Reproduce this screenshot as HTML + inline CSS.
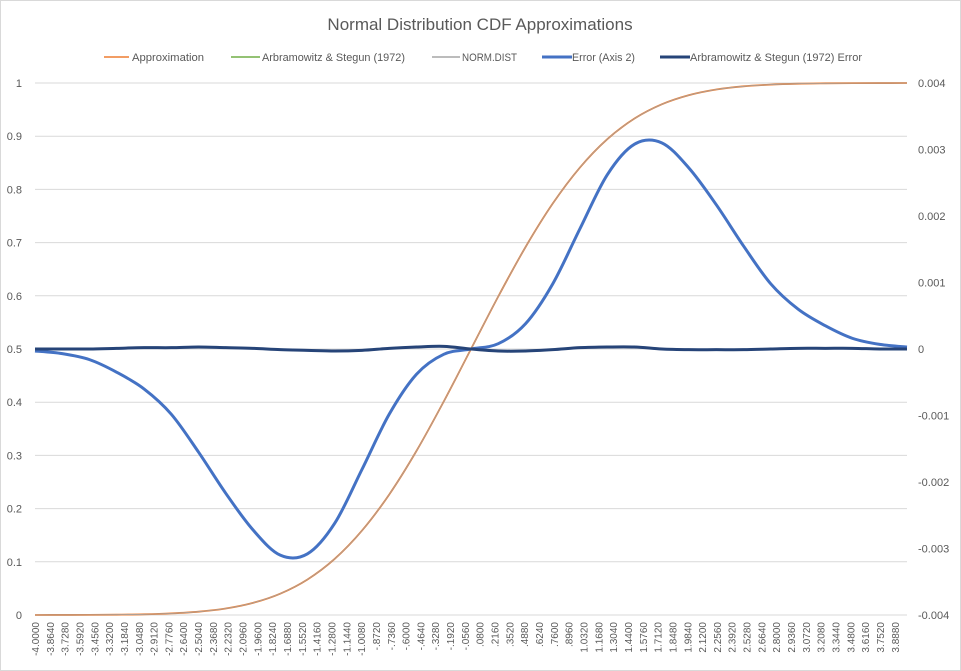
<!DOCTYPE html>
<html><head><meta charset="utf-8"><style>
body{margin:0;background:#fff}
svg{display:block;font-family:"Liberation Sans",sans-serif}
</style></head><body>
<svg id="c" width="961" height="671">
<rect x="0.5" y="0.5" width="960" height="670" fill="#fff" stroke="#d9d9d9"/>
<text x="480" y="30" text-anchor="middle" font-size="17" fill="#595959">Normal Distribution CDF Approximations</text>
<g id="grid"></g><g id="axes"></g><g id="series"></g><g id="legend"></g>
</svg>
<script>
const xs=[-4,-3.75,-3.5,-3.25,-3,-2.75,-2.5,-2.25,-2,-1.75,-1.5,-1.25,-1,-0.75,-0.5,-0.25,0,0.25,0.5,0.75,1,1.25,1.5,1.75,2,2.25,2.5,2.75,3,3.25,3.5,3.75,4];
const cdfValues=[0.00003,0.0001,0.0002,0.0006,0.0013,0.003,0.0062,0.0122,0.0228,0.0401,0.0668,0.1056,0.1587,0.2266,0.3085,0.4013,0.5,0.5987,0.6915,0.7734,0.8413,0.8944,0.9332,0.9599,0.9772,0.9878,0.9938,0.997,0.9987,0.9994,0.9998,0.9999,0.99997];
const errValues=[-0.00003,-0.00007,-0.00016,-0.00035,-0.0006,-0.00098,-0.00155,-0.00217,-0.00272,-0.0031,-0.00308,-0.00262,-0.00181,-0.00098,-0.00038,-0.00008,0,0.00008,0.00038,0.00098,0.00181,0.00262,0.00308,0.0031,0.00272,0.00217,0.00155,0.00098,0.0006,0.00035,0.00016,0.00007,0.00003];
const asErrValues=[0,0,0,0.00001,0.00002,0.00002,0.00003,0.00002,0.00001,-0.00001,-0.00002,-0.00003,-0.00002,0.00001,0.00003,0.00004,0,-0.00003,-0.00003,-0.00001,0.00002,0.00003,0.00003,0,-0.00001,-0.00001,-0.00001,0,0.00001,0.00001,0.00001,0,0];
const leftTicks=[0,0.1,0.2,0.3,0.4,0.5,0.6,0.7,0.8,0.9,1];
const rightTicks=[-0.004,-0.003,-0.002,-0.001,0,0.001,0.002,0.003,0.004];
const rightLabels=["-0.004","-0.003","-0.002","-0.001","0","0.001","0.002","0.003","0.004"];

const L=35,R=907,T=83,B=615,NS="http://www.w3.org/2000/svg";
const X=v=>L+(v+4)/8*(R-L);
const Y1=v=>B-v*(B-T);
const Y2=v=>B-(v+0.004)/0.008*(B-T);
function mk(p,tag,a){const e=document.createElementNS(NS,tag);for(const k in a)e.setAttribute(k,a[k]);p.appendChild(e);return e;}
const grid=document.getElementById('grid'),axes=document.getElementById('axes'),ser=document.getElementById('series'),leg=document.getElementById('legend');
leftTicks.forEach(t=>{
  const g=mk(grid,'line',{x1:L,x2:R,y1:Y1(t),y2:Y1(t),stroke:'#d9d9d9','stroke-width':1});
  
  
  const tx=mk(axes,'text',{x:22,y:Y1(t)+4,'text-anchor':'end','font-size':11,fill:'#595959'});
  tx.textContent=String(t);
  
  
});
rightTicks.forEach((t,i)=>{
  const tx=mk(axes,'text',{x:918,y:Y2(t)+4,'font-size':11,fill:'#595959'});
  tx.textContent=rightLabels[i];
  
  
});
for(let i=0;i<59;i++){
  const v=-4+i*0.136;
  let s=v.toFixed(4);
  if(Math.abs(v)<1&&Math.abs(v)>1e-9) s=s.replace('0.','.');
  const x=X(v)+4;
  const tx=mk(axes,'text',{x:x,y:622,'text-anchor':'end','font-size':10,fill:'#595959',transform:`rotate(-90 ${x} 622)`});
  tx.textContent=s;
  
  
}
function path(xv,vals,Y){
  const pts=xv.map((x,i)=>[X(x),Y(vals[i])]);
  let d='M'+pts[0][0]+','+pts[0][1];
  for(let i=0;i<pts.length-1;i++){
    const p0=pts[i-1]||pts[i],p1=pts[i],p2=pts[i+1],p3=pts[i+2]||p2;
    const c1=[p1[0]+(p2[0]-p0[0])/6,p1[1]+(p2[1]-p0[1])/6],c2=[p2[0]-(p3[0]-p1[0])/6,p2[1]-(p3[1]-p1[1])/6];
    d+=`C${c1[0]},${c1[1]} ${c2[0]},${c2[1]} ${p2[0]},${p2[1]}`;
  }
  return d;
}
let e;
e=mk(ser,'path',{d:path(xs,cdfValues,Y1),fill:'none',stroke:'#70ad47','stroke-width':1});


e=mk(ser,'path',{d:path(xs,cdfValues,Y1),fill:'none',stroke:'#ed7d31','stroke-width':1.8});


e=mk(ser,'path',{d:path(xs,cdfValues,Y1),fill:'none',stroke:'#a5a5a5','stroke-width':0.8});


e=mk(ser,'path',{d:path(xs,errValues,Y2),fill:'none',stroke:'#4472c4','stroke-width':3});


e=mk(ser,'path',{d:path(xs,asErrValues,Y2),fill:'none',stroke:'#264478','stroke-width':3});


const legItems=[["Approximation","#ed7d31",1.5,104,129,132,72],["Arbramowitz & Stegun (1972)","#70ad47",1.5,231,260,262,143],["NORM.DIST","#a5a5a5",1.5,432,460,462,55],["Error (Axis 2)","#4472c4",3,542,572,572,63],["Arbramowitz & Stegun (1972) Error","#264478",3,660,690,690,172]];
legItems.forEach(it=>{
  const g=mk(leg,'g',{});
  
  
  mk(g,'line',{x1:it[3],x2:it[4],y1:57,y2:57,stroke:it[1],'stroke-width':it[2]});
  const t=mk(g,'text',{x:it[5],y:61,'font-size':11,fill:'#595959',textLength:it[6],lengthAdjust:'spacingAndGlyphs'});
  t.textContent=it[0];
});
</script>
</body></html>
